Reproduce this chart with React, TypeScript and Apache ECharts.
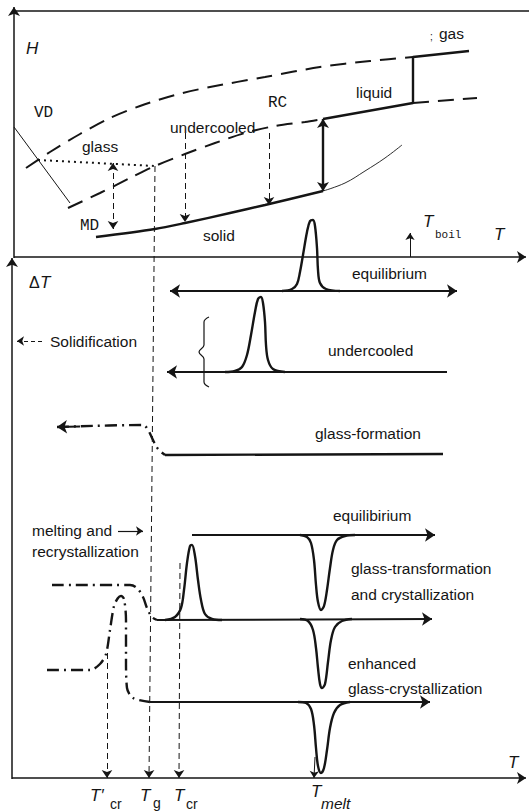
import React, { useEffect, useRef } from "react";
import * as echarts from "echarts";

const W = 529;
const H = 812;

// ---------- Upper panel: enthalpy H vs T ----------
const vapourDashed = [[26,168],[50,152],[80,134],[110,118],[140,106],[175,95],[210,87],[265,77],[320,67],[370,61],[413,57]];
const liquidGas = [[323,119],[413,103],[413,57],[469,51]];
const undercooledDashed = [[68,208],[100,193],[130,178],[155,166],[185,154],[215,143],[245,133],[275,126],[305,122],[323,119]];
const superheatDashed = [[413,103],[477,98]];
const glassDotted = [[38,160],[155,166]];
const vdLine = [[14,127],[70,203]];
const solidLine = [[96,237],[155,229],[185,223],[230,213],[265,205],[323,191]];
const solidExtension = [[323,191],[345,183],[365,171],[385,158],[402,145]];
const meltJump = [[323,191],[323,119]];
const mdArrow = [[113,229],[113,163]];
const rcArrow1 = [[185,133],[185,222]];
const rcArrow2 = [[269,133],[269,205]];
const tgLine = [[155,166],[149,778]];
const boilArrow = [[410,257],[410,233]];

// ---------- Axes / frame ----------
const hAxis = [[14,258],[14,7]];
const topBorder = [[14,11],[529,11]];
const tAxisTop = [[14,257],[526,257]];
const dtAxis = [[12,779],[12,258]];
const tAxisBottom = [[12,778],[526,778]];

// ---------- Lower panel: DTA traces ----------
const row1Base = [[170,291],[457,291]];
const row1Peak = [[282,291],[292,289],[297,284],[300,272],[303,255],[307,232],[310,221],[313,220],[315,226],[317,248],[318,270],[320,283],[326,289],[340,291]];
const row2Base = [[167,372],[447,372]];
const row2Peak = [[225,372],[235,371],[242,367],[247,355],[251,335],[255,312],[258,299],[261,297],[263,303],[265,322],[266,345],[268,360],[273,369],[285,372]];
const brace = [[209,317],[204,322],[204,345],[199,352],[204,359],[204,382],[209,387]];
const row3ArrowTip = [[80,426.5],[57,427]];
const row3DashDot = [[57,427],[143,425],[148,430],[153,440],[158,449],[165,455]];
const row3Base = [[165,455],[443,454]];
const row4Base = [[192,535],[435,535]];
const row4Dip = [[300,535],[307,537],[311,543],[314,560],[316,585],[318,602],[321,610],[324,606],[327,590],[330,568],[333,550],[337,540],[345,536],[355,535]];
const row5DashDot = [[52,585],[130,585],[137,588],[143,597],[147,608],[152,617],[157,620]];
const row5Base = [[157,620],[432,619]];
const row5Peak = [[165,620],[175,617],[181,608],[184,590],[187,563],[190,546],[192,545],[195,556],[198,580],[201,600],[205,614],[212,619],[222,620]];
const row5Dip = [[300,619],[308,621],[313,630],[316,648],[318,668],[320,684],[322,688],[325,684],[328,662],[331,640],[335,627],[342,621],[352,619]];
const row6DashDot = [[47,670],[90,670],[100,664],[106,654],[110,630],[114,606],[118,598],[121,596],[124,599],[126,620],[126,660],[127,688],[133,698],[150,702]];
const row6Base = [[150,702],[430,702]];
const row6Dip = [[298,702],[306,703],[311,709],[314,725],[316,748],[318,766],[321,773],[324,768],[327,750],[330,728],[334,713],[340,705],[350,702]];
const dropTcrPrime = [[107,653],[107,778]];
const dropTcr = [[180,563],[179,778]];
const dropTmelt = [[315,757],[314,778]];
const solidificationArrow = [[42,341],[17,341]];
const meltingArrow = [[118,531],[143,531]];

const INK = "#151515";
const SANS = '"Liberation Sans", Arial, sans-serif';
const MONO = '"Liberation Mono", "DejaVu Sans Mono", monospace';
const DASH = [16, 9];
const DASHDOT = [12, 5, 2, 5];
const FINEDASH = [6, 4];

function arrowLine(coords: number[][], width: number, start: boolean, end: boolean, type: any = "solid", size = 9) {
  return {
    type: "lines",
    coordinateSystem: "cartesian2d",
    polyline: false,
    silent: true,
    z: 3,
    symbol: [start ? "arrow" : "none", end ? "arrow" : "none"],
    symbolSize: size,
    itemStyle: { color: INK },
    lineStyle: { color: INK, width, type, opacity: 1, curveness: 0 },
    data: [{ coords }],
  };
}

function curve(data: number[][], width: number, type: any = "solid", smooth: number | boolean = 0.35) {
  return {
    type: "line",
    data,
    smooth,
    symbol: "none",
    silent: true,
    z: 4,
    lineStyle: { color: INK, width, type },
  };
}

function txt(text: string, x: number, y: number, font: string, align = "left") {
  return {
    type: "text",
    x,
    y,
    silent: true,
    z: 10,
    style: { text, font, fill: INK, textAlign: align, textVerticalAlign: "middle", align, verticalAlign: "middle" },
  };
}

export default function App() {
  const ref = useRef<HTMLDivElement>(null);
  useEffect(() => {
    document.body.style.margin = "0";
    const chart = echarts.init(ref.current!, undefined, { renderer: "svg" });
    const f = `15.5px ${SANS}`;
    const it16 = `italic 17px ${SANS}`;
    const mono = `16px ${MONO}`;
    chart.setOption({
      animation: false,
      backgroundColor: "#ffffff",
      grid: { left: 0, right: 0, top: 0, bottom: 0 },
      xAxis: { type: "value", min: 0, max: W, show: false },
      yAxis: { type: "value", min: 0, max: H, inverse: true, show: false },
      series: [
        // frame & axes
        arrowLine(hAxis, 1.5, false, true),
        arrowLine(topBorder, 1.5, false, false),
        arrowLine(tAxisTop, 1.5, false, true),
        arrowLine(dtAxis, 1.5, false, true),
        arrowLine(tAxisBottom, 1.5, false, true),
        // upper panel
        curve(vapourDashed, 2, DASH, 0.3),
        curve(liquidGas, 2.4, "solid", false),
        curve(undercooledDashed, 2, DASH, 0.3),
        curve(superheatDashed, 2, DASH, false),
        curve(glassDotted, 2, [2, 4], false),
        curve(vdLine, 1, "solid", false),
        curve(solidLine, 2.4, "solid", 0.3),
        curve(solidExtension, 0.9, "solid", 0.4),
        arrowLine(meltJump, 2.4, true, true, "solid", 9),
        arrowLine(mdArrow, 1, true, true, FINEDASH, 8),
        arrowLine(rcArrow1, 1, false, true, FINEDASH, 8),
        arrowLine(rcArrow2, 1, false, true, FINEDASH, 8),
        arrowLine(tgLine, 1, false, true, FINEDASH, 8),
        arrowLine(boilArrow, 1, false, true, "solid", 7),
        // lower panel
        arrowLine(row1Base, 2, true, true, "solid", 10),
        curve(row1Peak, 2.4, "solid", 0.35),
        arrowLine(row2Base, 2, true, false, "solid", 10),
        curve(row2Peak, 2.4, "solid", 0.35),
        curve(brace, 1.2, "solid", 0.4),
        arrowLine(row3ArrowTip, 2, false, true, "solid", 10),
        curve(row3DashDot, 2.4, DASHDOT, 0.35),
        curve(row3Base, 2.4, "solid", false),
        arrowLine(row4Base, 2, false, true, "solid", 10),
        curve(row4Dip, 2.4, "solid", 0.35),
        curve(row5DashDot, 2.4, DASHDOT, 0.35),
        arrowLine(row5Base, 2, false, true, "solid", 10),
        curve(row5Peak, 2.4, "solid", 0.35),
        curve(row5Dip, 2.4, "solid", 0.35),
        curve(row6DashDot, 2.4, DASHDOT, 0.3),
        arrowLine(row6Base, 2, false, true, "solid", 10),
        curve(row6Dip, 2.4, "solid", 0.35),
        arrowLine(dropTcrPrime, 1, false, true, FINEDASH, 8),
        arrowLine(dropTcr, 1, false, true, FINEDASH, 8),
        arrowLine(dropTmelt, 1, false, true, "solid", 7),
        arrowLine(solidificationArrow, 1, false, true, [4, 3], 7),
        arrowLine(meltingArrow, 1.2, false, true, "solid", 7),
      ],
      graphic: [
        txt("H", 26, 48, it16),
        txt("VD", 34, 113, mono),
        txt("glass", 82, 146, f),
        txt("undercooled", 170, 127, f),
        txt("RC", 268, 103, mono),
        txt("liquid", 356, 92, f),
        txt(";", 430, 36, `10px ${SANS}`),
        txt("gas", 439, 33, f),
        txt("MD", 80, 226, mono),
        txt("solid", 203, 235, f),
        txt("T", 423, 221, it16),
        txt("boil", 435, 235, `11px ${MONO}`),
        txt("T", 494, 234, it16),
        txt("Δ", 29, 282, `16px ${SANS}`),
        txt("T", 40, 282, it16),
        txt("Solidification", 50, 341, f),
        txt("equilibrium", 352, 273, f),
        txt("undercooled", 328, 350, f),
        txt("glass-formation", 315, 433, f),
        txt("equilibirium", 333, 515, f),
        txt("melting and", 32, 530, f),
        txt("recrystallization", 32, 551, f),
        txt("glass-transformation", 351, 568, f),
        txt("and crystallization", 351, 594, f),
        txt("enhanced", 348, 663, f),
        txt("glass-crystallization", 348, 688, f),
        txt("T", 508, 762, it16),
        txt("T′", 90, 795, it16),
        txt("cr", 110, 804, `14px ${SANS}`),
        txt("T", 140, 795, it16),
        txt("g", 153, 803, `14px ${SANS}`),
        txt("T", 174, 795, it16),
        txt("cr", 186, 804, `14px ${SANS}`),
        txt("T", 311, 791, it16),
        txt("melt", 321, 803, `italic 15.5px ${SANS}`),
      ],
    });
    return () => chart.dispose();
  }, []);
  return <div ref={ref} style={{ width: W, height: H }} />;
}
